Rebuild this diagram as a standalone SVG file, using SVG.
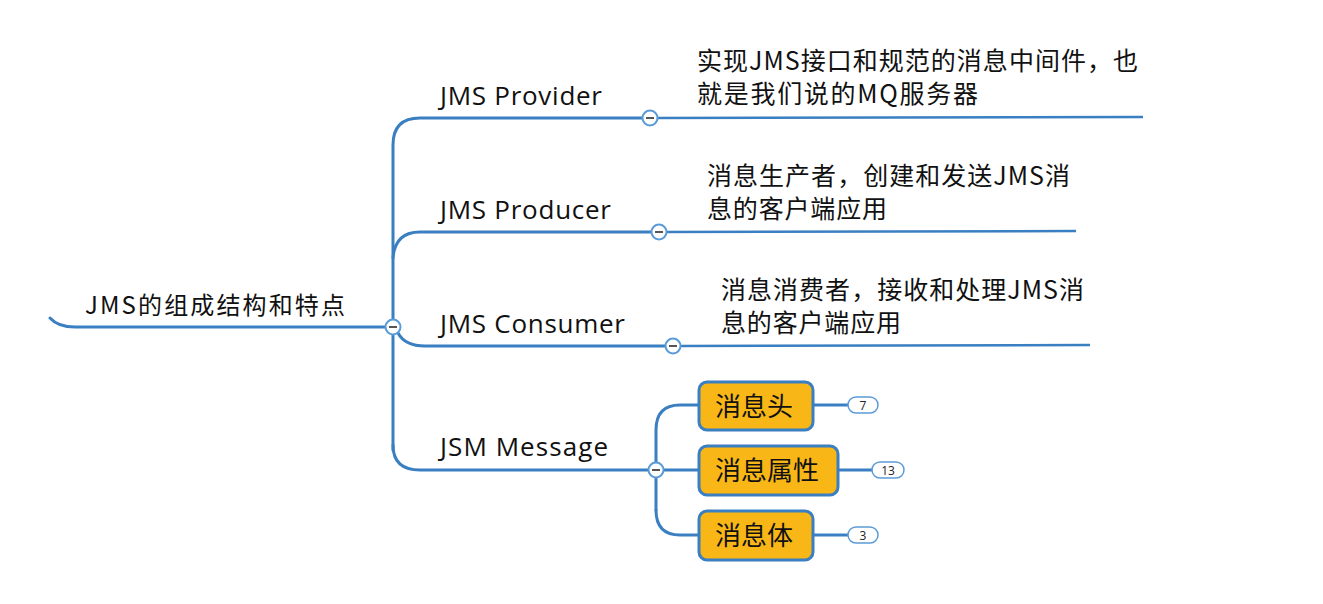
<svg xmlns="http://www.w3.org/2000/svg" width="1323" height="604" viewBox="0 0 1323 604">
<style>
.ln{fill:none;stroke:#3A7FC2;stroke-width:3;stroke-linecap:round}
.ln2{fill:none;stroke:#3A7FC2;stroke-width:2.5}
.tg{fill:#fff;stroke:#5A9BD8;stroke-width:2}
.mn{stroke:#555;stroke-width:2}
.t{font-family:"Noto Sans CJK SC","Open Sans",sans-serif;fill:#111}
.lat{font-family:"Open Sans","Noto Sans CJK SC",sans-serif;font-size:26px;fill:#111}
.box{fill:#F9B717;stroke:#3A7FC2;stroke-width:3}
.pill{fill:#fff;stroke:#5A9BD8;stroke-width:1.5}
.cnt{font-family:"Open Sans",sans-serif;font-size:12px;fill:#222}
</style>
<rect width="1323" height="604" fill="#fff"/>
<g id="connectors">
<path class="ln" d="M50,318 Q58,327 75,327 L386,327"/>
<path class="ln" d="M393,450 L393,145 Q393,118 420,118 L643,118"/>
<path class="ln" d="M393,258 Q395,232 420,232 L652,232"/>
<path class="ln" d="M398,333 Q405,346 425,346 L666,346"/>
<path class="ln" d="M393,445 Q393,470 420,470 L649,470"/>
<path class="ln2" d="M657,118 L1143,117"/>
<path class="ln2" d="M666,232 L1076,231"/>
<path class="ln2" d="M680,346 L1090,345"/>
<path class="ln" d="M656,510 L656,430 Q656,405 680,405 L699,405"/>
<path class="ln" d="M663,470 L699,470"/>
<path class="ln" d="M656,510 Q656,535 680,535 L699,535"/>
<path class="ln" d="M813,405 L848,405"/>
<path class="ln" d="M838,470 L872,470"/>
<path class="ln" d="M813,535 L848,535"/>
</g>
<g id="root">
<text class="t" x="85" y="314" font-size="24" textLength="260">JMS的组成结构和特点</text>
<circle class="tg" cx="393" cy="327" r="7.5"/><line class="mn" x1="389" y1="327" x2="397" y2="327"/>
</g>
<g id="provider">
<text class="lat" x="440" y="105" textLength="162">JMS Provider</text>
<circle class="tg" cx="650" cy="118" r="7.5"/><line class="mn" x1="646" y1="118" x2="654" y2="118"/>
<text class="t" x="697" y="70" font-size="25" textLength="441">实现JMS接口和规范的消息中间件，也</text>
<text class="t" x="697" y="103" font-size="25" textLength="281">就是我们说的MQ服务器</text>
</g>
<g id="producer">
<text class="lat" x="440" y="219" textLength="171">JMS Producer</text>
<circle class="tg" cx="659" cy="232" r="7.5"/><line class="mn" x1="655" y1="232" x2="663" y2="232"/>
<text class="t" x="707" y="185" font-size="25" textLength="363">消息生产者，创建和发送JMS消</text>
<text class="t" x="707" y="218" font-size="25" textLength="180">息的客户端应用</text>
</g>
<g id="consumer">
<text class="lat" x="440" y="333" textLength="185">JMS Consumer</text>
<circle class="tg" cx="673" cy="346" r="7.5"/><line class="mn" x1="669" y1="346" x2="677" y2="346"/>
<text class="t" x="721" y="299" font-size="25" textLength="363">消息消费者，接收和处理JMS消</text>
<text class="t" x="721" y="332" font-size="25" textLength="180">息的客户端应用</text>
</g>
<g id="message">
<text class="lat" x="440" y="456" textLength="168">JSM Message</text>
<circle class="tg" cx="656" cy="470" r="7.5"/><line class="mn" x1="652" y1="470" x2="660" y2="470"/>
</g>
<g id="header">
<rect class="box" x="699" y="382" width="114" height="48" rx="8"/>
<text class="t" x="715" y="416" font-size="26">消息头</text>
<rect class="pill" x="848" y="397" width="30" height="16" rx="8"/>
<text class="cnt" x="863" y="409.5" text-anchor="middle">7</text>
</g>
<g id="props">
<rect class="box" x="699" y="446" width="139" height="49" rx="8"/>
<text class="t" x="715" y="480" font-size="26">消息属性</text>
<rect class="pill" x="872" y="462" width="32" height="16" rx="8"/>
<text class="cnt" x="888" y="474.5" text-anchor="middle">13</text>
</g>
<g id="body">
<rect class="box" x="699" y="511" width="114" height="49" rx="8"/>
<text class="t" x="715" y="545" font-size="26">消息体</text>
<rect class="pill" x="848" y="527" width="30" height="16" rx="8"/>
<text class="cnt" x="863" y="539.5" text-anchor="middle">3</text>
</g>
</svg>
